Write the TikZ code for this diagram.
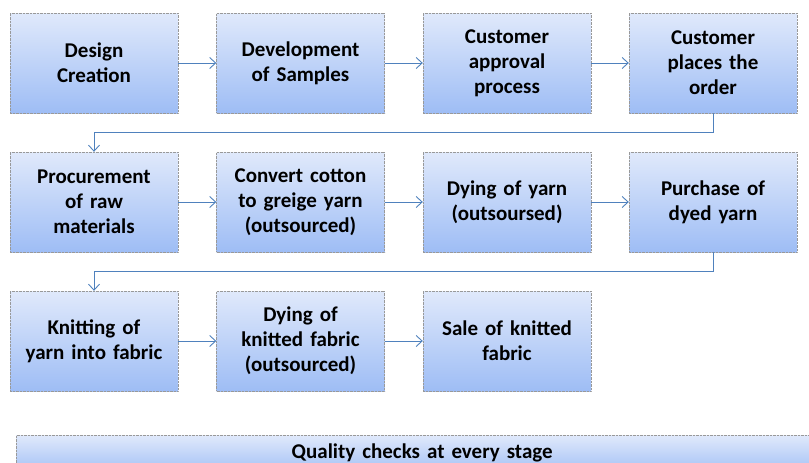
\documentclass[tikz,border=0pt]{standalone}
\usepackage{fontspec}
\setmainfont{Carlito}
\usetikzlibrary{arrows.meta}
\definecolor{boxtop}{RGB}{224,233,251}
\definecolor{boxbottom}{RGB}{158,189,245}
\definecolor{flowblue}{RGB}{79,129,189}

\begin{document}
\begin{tikzpicture}[x = 1pt, y = -1pt,
		stage/.style = {draw = gray!80, densely dotted, top color = boxtop, bottom color = boxbottom,
				minimum width = 168pt, minimum height = 100pt, align = center, text width = 160pt,
				font = \bfseries\fontsize{21}{25}\selectfont, inner sep = 0pt},
		flow/.style = {draw = flowblue, line width = 0.9pt, -{Straight Barb[length = 6pt, width = 11pt]}}]
		\useasboundingbox (0,0) rectangle (809,463);
		%
		\node [stage] (design) at (94,63) {Design\\Creation};
		\node [stage] (samples) at (300.5,63) {Development\\of Samples};
		\node [stage] (approval) at (507,63) {Customer\\approval\\process};
		\node [stage] (order) at (713,63) {Customer\\places the\\order};
		%
		\node [stage] (procure) at (94,202) {Procurement\\of raw\\materials};
		\node [stage] (greige) at (300.5,202) {Convert cotton\\to greige yarn\\(outsourced)};
		\node [stage] (dyeyarn) at (507,202) {Dying of yarn\\(outsoursed)};
		\node [stage] (purchase) at (713,202) {Purchase of\\dyed yarn};
		%
		\node [stage] (knit) at (94,341) {Knitting of\\yarn into fabric};
		\node [stage] (dyefabric) at (300.5,341) {Dying of\\knitted fabric\\(outsourced)};
		\node [stage] (sale) at (507,341) {Sale of knitted\\fabric};
		%
		\node [stage, minimum width = 812pt, text width = 800pt, minimum height = 40pt, anchor = north west] (quality) at (16,435) {\raisebox{9pt}{Quality checks at every stage}};
		%
		\foreach \a/\b in {design/samples, samples/approval, approval/order,
				procure/greige, greige/dyeyarn, dyeyarn/purchase,
				knit/dyefabric, dyefabric/sale}{
				\draw [flow] (\a.east) -- (\b.west);
			}
		\draw [flow] (order.south) -- ++(0,19) -| (procure.north);
		\draw [flow] (purchase.south) -- ++(0,19) -| (knit.north);
	\end{tikzpicture}
\end{document}
